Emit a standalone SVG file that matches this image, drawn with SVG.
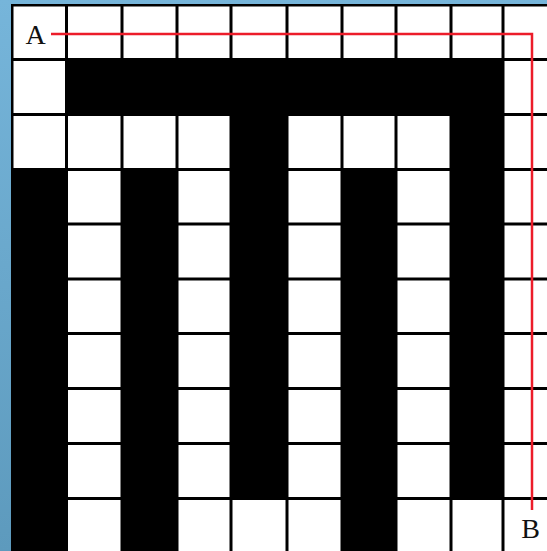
<svg xmlns="http://www.w3.org/2000/svg" width="547" height="551" viewBox="0 0 547 551">
<defs>
<linearGradient id="bg" x1="0" y1="0" x2="0" y2="1">
<stop offset="0" stop-color="#76b5da"/>
<stop offset="1" stop-color="#5d9abd"/>
</linearGradient>
<style>
.cell{fill:#ffffff}
.route{fill:none;stroke:#ec1c2a;stroke-width:2.5}
.lbl{font-family:"Liberation Serif","DejaVu Serif",serif;font-size:28px;fill:#111;text-anchor:middle}
</style>
</defs>
<rect x="0" y="0" width="547" height="551" fill="url(#bg)"/>
<rect x="11" y="4" width="536" height="547" fill="#000"/>
<g id="grid">
<!-- row 0 -->
<rect class="cell" x="13.5" y="6.5" width="51.5" height="51.5"/>
<rect class="cell" x="68" y="6.5" width="52.5" height="51.5"/>
<rect class="cell" x="123.5" y="6.5" width="52" height="51.5"/>
<rect class="cell" x="178.5" y="6.5" width="51" height="51.5"/>
<rect class="cell" x="232.5" y="6.5" width="53" height="51.5"/>
<rect class="cell" x="288.5" y="6.5" width="52" height="51.5"/>
<rect class="cell" x="343.5" y="6.5" width="51" height="51.5"/>
<rect class="cell" x="397.5" y="6.5" width="52" height="51.5"/>
<rect class="cell" x="452.5" y="6.5" width="49" height="51.5"/>
<rect class="cell" x="504.5" y="6.5" width="52" height="51.5"/>
<!-- row 1 -->
<rect class="cell" x="13.5" y="61" width="51.5" height="52"/>
<rect class="cell" x="504.5" y="61" width="52" height="52"/>
<!-- row 2 -->
<rect class="cell" x="13.5" y="116" width="51.5" height="52"/>
<rect class="cell" x="68" y="116" width="52.5" height="52"/>
<rect class="cell" x="123.5" y="116" width="52" height="52"/>
<rect class="cell" x="178.5" y="116" width="51" height="52"/>
<rect class="cell" x="288.5" y="116" width="52" height="52"/>
<rect class="cell" x="343.5" y="116" width="51" height="52"/>
<rect class="cell" x="397.5" y="116" width="52" height="52"/>
<rect class="cell" x="504.5" y="116" width="52" height="52"/>
<!-- rows 3-8 -->
<g id="rows3to8">
<rect class="cell" x="68" y="171" width="52.5" height="51.5"/>
<rect class="cell" x="178.5" y="171" width="51" height="51.5"/>
<rect class="cell" x="288.5" y="171" width="52" height="51.5"/>
<rect class="cell" x="397.5" y="171" width="52" height="51.5"/>
<rect class="cell" x="504.5" y="171" width="52" height="51.5"/>
<rect class="cell" x="68" y="225.5" width="52.5" height="52"/>
<rect class="cell" x="178.5" y="225.5" width="51" height="52"/>
<rect class="cell" x="288.5" y="225.5" width="52" height="52"/>
<rect class="cell" x="397.5" y="225.5" width="52" height="52"/>
<rect class="cell" x="504.5" y="225.5" width="52" height="52"/>
<rect class="cell" x="68" y="280.5" width="52.5" height="51.5"/>
<rect class="cell" x="178.5" y="280.5" width="51" height="51.5"/>
<rect class="cell" x="288.5" y="280.5" width="52" height="51.5"/>
<rect class="cell" x="397.5" y="280.5" width="52" height="51.5"/>
<rect class="cell" x="504.5" y="280.5" width="52" height="51.5"/>
<rect class="cell" x="68" y="335" width="52.5" height="52"/>
<rect class="cell" x="178.5" y="335" width="51" height="52"/>
<rect class="cell" x="288.5" y="335" width="52" height="52"/>
<rect class="cell" x="397.5" y="335" width="52" height="52"/>
<rect class="cell" x="504.5" y="335" width="52" height="52"/>
<rect class="cell" x="68" y="390" width="52.5" height="52"/>
<rect class="cell" x="178.5" y="390" width="51" height="52"/>
<rect class="cell" x="288.5" y="390" width="52" height="52"/>
<rect class="cell" x="397.5" y="390" width="52" height="52"/>
<rect class="cell" x="504.5" y="390" width="52" height="52"/>
<rect class="cell" x="68" y="445" width="52.5" height="52"/>
<rect class="cell" x="178.5" y="445" width="51" height="52"/>
<rect class="cell" x="288.5" y="445" width="52" height="52"/>
<rect class="cell" x="397.5" y="445" width="52" height="52"/>
<rect class="cell" x="504.5" y="445" width="52" height="52"/>
</g>
<!-- row 9 -->
<rect class="cell" x="68" y="500" width="52.5" height="51.5"/>
<rect class="cell" x="178.5" y="500" width="51" height="51.5"/>
<rect class="cell" x="232.5" y="500" width="53" height="51.5"/>
<rect class="cell" x="288.5" y="500" width="52" height="51.5"/>
<rect class="cell" x="397.5" y="500" width="52" height="51.5"/>
<rect class="cell" x="452.5" y="500" width="49" height="51.5"/>
<rect class="cell" x="504.5" y="500" width="52" height="51.5"/>
</g>
<g id="connectors">
<polyline class="route" points="51,34 532,34 532,510"/>
</g>
<g id="labelA"><text class="lbl" x="35.5" y="43.5">A</text></g>
<g id="labelB"><text class="lbl" x="530.5" y="538">B</text></g>
</svg>
